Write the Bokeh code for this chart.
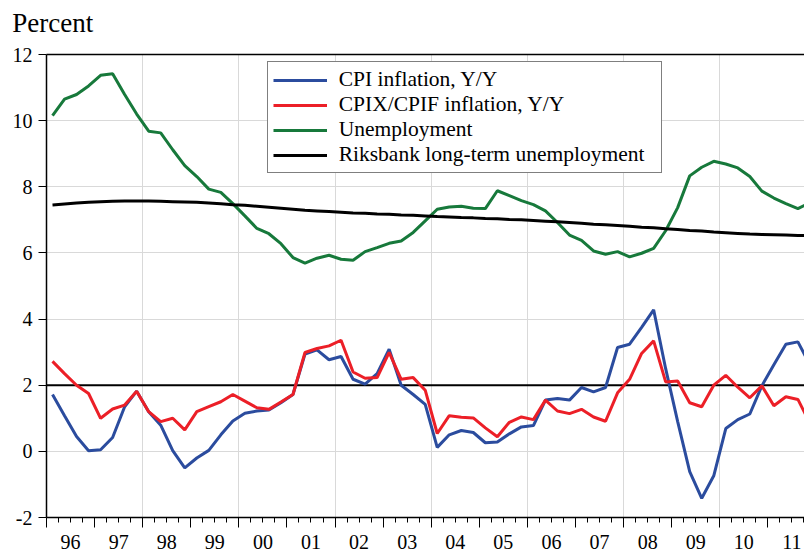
from bokeh.plotting import figure
from bokeh.models import (Range1d, FixedTicker, LinearAxis, Legend, LegendItem,
                          Span, Grid)
from bokeh.embed import file_html
from bokeh.resources import INLINE

# ---------------- data (quarterly, 1996Q1 .. 2011Q4) ----------------
quarters = [f"{y}Q{q}" for y in range(1996, 2012) for q in range(1, 5)]

cpi = [1.72, 1.08, 0.45, 0.02, 0.05, 0.42, 1.35, 1.82,
       1.20, 0.79, 0.02, -0.50, -0.20, 0.03, 0.50, 0.92,
       1.15, 1.22, 1.25, 1.47, 1.72, 2.94, 3.07, 2.77,
       2.87, 2.18, 2.03, 2.35, 3.09, 2.00, 1.72, 1.42,
       0.12, 0.50, 0.63, 0.57, 0.26, 0.28, 0.53, 0.74,
       0.78, 1.55, 1.60, 1.55, 1.93, 1.80, 1.93, 3.14,
       3.24, 3.75, 4.28, 2.50, 0.90, -0.61, -1.42, -0.74,
       0.69, 0.96, 1.13, 1.98, 2.62, 3.24, 3.31, 2.62]

cpix = [2.72, 2.35, 2.00, 1.75, 1.00, 1.28, 1.40, 1.82,
        1.20, 0.90, 1.00, 0.65, 1.20, 1.35, 1.50, 1.72,
        1.52, 1.32, 1.27, 1.49, 1.72, 2.99, 3.11, 3.19,
        3.36, 2.40, 2.21, 2.23, 2.99, 2.18, 2.23, 1.85,
        0.54, 1.08, 1.03, 1.01, 0.71, 0.44, 0.88, 1.04,
        0.96, 1.55, 1.22, 1.14, 1.27, 1.04, 0.91, 1.77,
        2.18, 2.96, 3.34, 2.10, 2.13, 1.47, 1.35, 2.00,
        2.30, 1.94, 1.62, 1.98, 1.38, 1.65, 1.57, 0.85]

unemployment = [10.15, 10.65, 10.79, 11.05, 11.37, 11.42, 10.79, 10.20,
                9.68, 9.63, 9.12, 8.64, 8.31, 7.93, 7.83, 7.49,
                7.12, 6.74, 6.58, 6.28, 5.86, 5.69, 5.84, 5.93,
                5.81, 5.78, 6.04, 6.16, 6.29, 6.36, 6.62, 6.97,
                7.32, 7.39, 7.41, 7.35, 7.34, 7.88, 7.73, 7.58,
                7.46, 7.27, 6.92, 6.54, 6.38, 6.06, 5.96, 6.04,
                5.88, 5.99, 6.14, 6.67, 7.37, 8.33, 8.59, 8.77,
                8.69, 8.57, 8.31, 7.87, 7.66, 7.49, 7.34, 7.52]

lt_unemployment = [7.45, 7.48, 7.51, 7.53, 7.55, 7.56, 7.57, 7.57,
                   7.57, 7.56, 7.55, 7.54, 7.53, 7.51, 7.49, 7.46,
                   7.44, 7.41, 7.38, 7.35, 7.32, 7.29, 7.27, 7.25,
                   7.23, 7.21, 7.20, 7.18, 7.17, 7.15, 7.14, 7.12,
                   7.10, 7.09, 7.07, 7.06, 7.04, 7.03, 7.01, 7.00,
                   6.98, 6.96, 6.94, 6.92, 6.90, 6.87, 6.85, 6.83,
                   6.81, 6.78, 6.76, 6.73, 6.71, 6.68, 6.66, 6.63,
                   6.61, 6.59, 6.57, 6.56, 6.55, 6.54, 6.53, 6.52]

years = list(range(1996, 2012))
year_labels = ["96", "97", "98", "99", "00", "01", "02", "03",
               "04", "05", "06", "07", "08", "09", "10", "11"]
grid_years = [1998, 2000, 2002, 2004, 2006, 2008, 2010]
y_ticks = [-2, 0, 2, 4, 6, 8, 10, 12]
y_tick_labels = ["-2", "0", "2", "4", "6", "8", "10", "12"]
inflation_target = 2

series_names = ["CPI inflation, Y/Y", "CPIX/CPIF inflation, Y/Y",
                "Unemployment", "Riksbank long-term unemployment"]
unit_label = "Percent"

# ---------------- styling ----------------
FONT = "Liberation Serif"
BLUE = "#2b4c9e"
RED = "#ec1f27"
GREEN = "#17793b"
BLACK = "#000000"
GRID = "#d9d9d9"

x = [int(s[:4]) + (int(s[5]) - 0.5) / 4 for s in quarters]

p = figure(width=804, height=553, output_backend="svg", toolbar_location=None,
           x_range=Range1d(1996, 2011.762), y_range=Range1d(-2, 12),
           x_axis_type=None, y_axis_type=None, title=unit_label,
           min_border_left=46, min_border_right=0, min_border_top=54,
           min_border_bottom=36)
p.outline_line_color = None
p.background_fill_color = "white"
p.border_fill_color = "white"

p.title.text_font = FONT
p.title.text_font_size = "27px"
p.title.text_font_style = "normal"
p.title.text_color = BLACK
p.title.align = "left"
p.title.vertical_align = "bottom"
p.title.offset = -34.3
p.title.standoff = 0

# grids
p.add_layout(Grid(dimension=1, ticker=FixedTicker(ticks=y_ticks),
                  grid_line_color=GRID, grid_line_width=1))
p.add_layout(Grid(dimension=0, ticker=FixedTicker(ticks=grid_years),
                  grid_line_color=GRID, grid_line_width=1))

# inflation target line
p.add_layout(Span(location=inflation_target, dimension="width",
                  line_color=BLACK, line_width=2, level="underlay"))

# y axis
yaxis = LinearAxis(ticker=FixedTicker(ticks=y_ticks, minor_ticks=[]),
                   axis_line_width=1.5, axis_line_color=BLACK,
                   major_tick_out=8, major_tick_in=0,
                   minor_tick_out=0, minor_tick_in=0,
                   major_label_standoff=6,
                   major_label_overrides={t: l for t, l in zip(y_ticks, y_tick_labels)},
                   major_label_text_font=FONT,
                   major_label_text_font_size="20px",
                   major_label_text_color=BLACK)
p.add_layout(yaxis, "left")

# x axis line with long ticks at year boundaries (no labels)
year_bounds = years + [2012]
quarter_bounds = [y + k / 4 for y in years for k in (1, 2, 3)]
xaxis = LinearAxis(ticker=FixedTicker(ticks=[], minor_ticks=year_bounds),
                   axis_line_width=1.5, axis_line_color=BLACK,
                   major_tick_out=0, major_tick_in=0,
                   minor_tick_out=10, minor_tick_in=0,
                   minor_tick_line_color=BLACK,
                   major_label_standoff=0)
p.add_layout(xaxis, "below")

# short quarter ticks (reaching back up to the axis line) and year labels
mid_years = [y + 0.5 for y in years]
xlab = LinearAxis(ticker=FixedTicker(ticks=mid_years, minor_ticks=quarter_bounds),
                  axis_line_color=None, major_tick_line_color=None,
                  minor_tick_line_color=BLACK,
                  major_tick_out=0, major_tick_in=0,
                  minor_tick_out=-5, minor_tick_in=10,
                  major_label_standoff=7,
                  major_label_overrides={m: l for m, l in zip(mid_years, year_labels)},
                  major_label_text_font=FONT,
                  major_label_text_font_size="20px",
                  major_label_text_color=BLACK)
p.add_layout(xlab, "below")

# top border; invisible outward ticks leave room under the heading
top = LinearAxis(ticker=FixedTicker(ticks=[], minor_ticks=year_bounds),
                 axis_line_width=1.5, axis_line_color=BLACK,
                 major_tick_out=0, major_tick_in=0,
                 minor_tick_out=17, minor_tick_in=0,
                 minor_tick_line_color=None,
                 major_label_standoff=0)
p.add_layout(top, "above")

# series
r_unemp = p.line(x, unemployment, line_color=GREEN, line_width=3)
r_lt = p.line(x, lt_unemployment, line_color=BLACK, line_width=3)
r_cpi = p.line(x, cpi, line_color=BLUE, line_width=3)
r_cpix = p.line(x, cpix, line_color=RED, line_width=3)

legend = Legend(items=[LegendItem(label=series_names[0], renderers=[r_cpi]),
                       LegendItem(label=series_names[1], renderers=[r_cpix]),
                       LegendItem(label=series_names[2], renderers=[r_unemp]),
                       LegendItem(label=series_names[3], renderers=[r_lt])],
                location=(220.7, 343.7), orientation="vertical",
                border_line_color=BLACK, border_line_width=1,
                background_fill_color="white", background_fill_alpha=1,
                padding=5, spacing=0, margin=0,
                glyph_width=54, glyph_height=24, label_height=24,
                label_standoff=12, label_width=317,
                label_text_font=FONT, label_text_font_size="21.5px",
                label_text_color=BLACK)
p.add_layout(legend)

open("out.html", "w").write(file_html(p, INLINE))
